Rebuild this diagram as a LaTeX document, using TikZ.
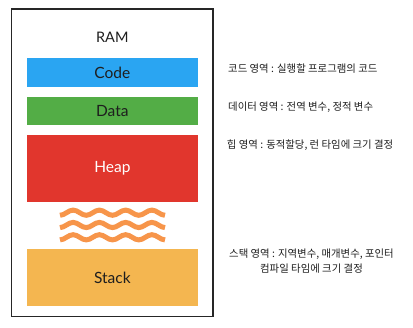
\documentclass[tikz,border=0pt]{standalone}
\usepackage{fontspec}
\setmainfont{Lato}
\newfontfamily\krfont{Noto Sans CJK KR}
\definecolor{codeblue}{HTML}{2AA5F2}
\definecolor{datagreen}{HTML}{53AD46}
\definecolor{heapred}{HTML}{E1362D}
\definecolor{stackorange}{HTML}{F4B650}
\definecolor{waveorange}{HTML}{F7954A}
\definecolor{textgray}{HTML}{1E1E1E}
\tikzset{
  seg/.style={rectangle, draw=none, minimum width=170.7pt, inner sep=0pt, font=\fontsize{15.5}{17}\selectfont, text=textgray},
  note/.style={anchor=west, inner sep=0pt, font=\krfont\fontsize{10.4}{15.5}\selectfont, text=textgray},
  wave/.style={draw=waveorange, line width=5pt, line cap=butt},
}
\begin{document}
\begin{tikzpicture}[x=1pt, y=-1pt]
\fill[white] (0,0) rectangle (413,328);
\useasboundingbox (0,0) rectangle (413,328);
\node[draw=black!85, line width=1.3pt, minimum width=201.3pt, minimum height=307.7pt, inner sep=0pt] (ram) at (112.35,162.85) {};
\node[inner sep=0pt, font=\fontsize{14.5}{16}\selectfont, text=textgray] (ramlabel) at (112.3,37) {RAM};
\node[seg, fill=codeblue, minimum height=29pt] (code) at (112.35,72.5) {Code};
\node[seg, fill=datagreen, minimum height=28pt] (data) at (112.35,111) {Data};
\node[seg, fill=heapred, minimum height=66.7pt, text=white] (heap) at (112.35,168.35) {Heap};
\node[seg, fill=stackorange, minimum height=56.4pt] (stack) at (112.35,277.5) {Stack};
\foreach \cy in {212.7,225,237.3}{
  \draw[wave] (60,{\cy+2.6})
    \foreach \k in {0,...,3}{
      cos ({60+26.25*\k+6.5625},\cy) sin ({60+26.25*\k+13.125},{\cy-2.6})
      cos ({60+26.25*\k+19.6875},\cy) sin ({60+26.25*(\k+1)},{\cy+2.6})
    };
}
\node[note] (ncode) at (228,68.5) {코드 영역 : 실행할 프로그램의 코드};
\node[note] (ndata) at (228,106.7) {데이터 영역 : 전역 변수, 정적 변수};
\node[note] (nheap) at (226.7,145) {힙 영역 : 동적할당, 런 타임에 크기 결정};
\node[note, anchor=center, align=center] (nstack) at (311.5,261) {스택 영역 : 지역변수, 매개변수, 포인터\\컴파일 타임에 크기 결정};
\end{tikzpicture}
\end{document}
